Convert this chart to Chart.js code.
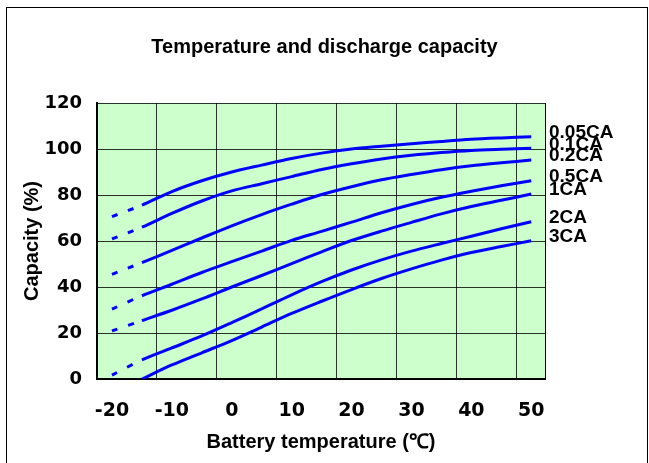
<!DOCTYPE html>
<html>
<head>
<meta charset="utf-8">
<title>Temperature and discharge capacity</title>
<script src="https://cdn.jsdelivr.net/npm/chart.js@4.4.1/dist/chart.umd.min.js"></script>
<style>
  html, body { margin: 0; padding: 0; background: #fff; }
  #wrap { position: relative; width: 649px; height: 463px; }
  #frame { position: absolute; left: 6px; top: 7px; width: 640px; height: 470px; border: 1px solid #000; pointer-events: none; }
</style>
</head>
<body>
<div id="wrap">
  <canvas id="capChart" width="649" height="463"></canvas>
  <div id="frame"></div>
</div>
<script>
// Temperature (deg C) of each reading
const temps = [-20, -15, -10, -5, 0, 5, 10, 15, 20, 25, 30, 35, 40, 45, 50];

// Capacity (%) per discharge rate
const cap005 = [70.6, 75.6, 81.5, 86.2, 90, 93, 95.9, 98.2, 100, 101.2, 102.3, 103.3, 104.2, 104.8, 105.3];
const cap01 = [60.9, 66, 72, 77.4, 81.8, 84.9, 88, 91.1, 93.6, 95.7, 97.3, 98.5, 99.4, 99.9, 100.3];
const cap02 = [45.5, 50.6, 55.9, 61.3, 66.6, 71.5, 76, 80.2, 83.6, 86.6, 88.9, 91, 92.7, 94, 95.2];
const cap05 = [30.4, 36.2, 41.2, 46.3, 51, 55.6, 60.3, 64.2, 68.2, 72.3, 75.9, 79, 81.6, 84, 86.2];
const cap1 = [20.9, 25.4, 29.9, 34.8, 40, 45, 50.2, 55.3, 60.2, 64.3, 68.1, 71.8, 75, 77.7, 80.4];
const cap2 = [1.7, 8.3, 13.5, 18.7, 24.5, 30.5, 36.6, 42.3, 47.4, 51.8, 55.6, 58.9, 62.1, 65.3, 68.4];
const cap3 = [null, 0, 6.1, 11.4, 16.7, 22.6, 28.5, 33.8, 38.9, 43.7, 47.9, 51.7, 55, 57.6, 60.1];

const seriesNames = ["0.05CA", "0.1CA", "0.2CA", "0.5CA", "1CA", "2CA", "3CA"];
const seriesValues = [cap005, cap01, cap02, cap05, cap1, cap2, cap3];

// vertical grid lines sit between the temperature labels
const gridTemps = [-22.5, -12.5, -2.5, 7.5, 17.5, 27.5, 37.5, 47.5];
const xTickLabels = ["-20", "-10", "0", "10", "20", "30", "40", "50"];

const gridColor = "rgba(0,0,0,0.8)";

// green plot area
const plotBg = {
  id: "plotBg",
  beforeDraw(chart) {
    const { ctx, chartArea: a } = chart;
    ctx.save();
    ctx.fillStyle = "#ccffcc";
    ctx.fillRect(a.left, a.top, a.right - a.left, a.bottom - a.top);
    ctx.restore();
  },
};

// rate names next to the line ends
const endLabels = {
  id: "endLabels",
  afterDatasetsDraw(chart) {
    const { ctx, chartArea } = chart;
    ctx.save();
    ctx.font = "bold 19px 'Liberation Sans', Arial, sans-serif";
    ctx.fillStyle = "#000";
    ctx.textAlign = "left";
    ctx.textBaseline = "middle";
    chart.data.datasets.forEach((ds, i) => {
      const pts = chart.getDatasetMeta(i).data;
      const last = pts[pts.length - 1];
      ctx.fillText(ds.label, chartArea.right + 4, last.y - 4);
    });
    ctx.restore();
  },
};

const datasets = seriesNames.map((name, i) => ({
  label: name,
  data: temps.map((t, j) => ({ x: t, y: seriesValues[i][j] })),
  borderColor: "#0000ff",
  borderWidth: 3,
  pointRadius: 0,
  fill: false,
  tension: 0.3,
  segment: {
    // first 5 degrees drawn dashed
    borderDash: (ctx) => (ctx.p0DataIndex === 0 ? [6, 11] : undefined),
  },
}));

const tickFont = { family: "'DejaVu Sans', sans-serif", size: 18, weight: "bold" };

const ctx = document.getElementById("capChart").getContext("2d");
new Chart(ctx, {
  type: "line",
  data: { datasets: datasets },
  options: {
    responsive: false,
    animation: false,
    layout: { padding: 0 },
    plugins: {
      legend: { display: false },
      tooltip: { enabled: false },
      title: {
        display: true,
        text: "Temperature and discharge capacity",
        color: "#000",
        font: { family: "'Liberation Sans', Arial, sans-serif", size: 20, weight: "bold" },
        padding: { top: 35, bottom: 44 },
      },
    },
    scales: {
      x: {
        type: "linear",
        position: "bottom",
        min: -22.5,
        max: 52.3,
        afterBuildTicks: (s) => {
          s.ticks = gridTemps.map((v) => ({ value: v }));
        },
        afterFit: (s) => {
          s.height = 84;
        },
        ticks: {
          callback: (v, i) => xTickLabels[i],
          labelOffset: 15,
          autoSkip: false,
          maxRotation: 0,
          padding: 21,
          color: "#000",
          font: { family: "'DejaVu Sans', sans-serif", size: 19, weight: "bold" },
        },
        grid: { color: gridColor, lineWidth: 1, drawTicks: false },
        border: { color: "#000", width: 2 },
        title: {
          display: true,
          text: "Battery temperature (℃)",
          color: "#000",
          font: { family: "'Liberation Sans', Arial, sans-serif", size: 20, weight: "bold" },
          padding: { top: 0, bottom: 9 },
        },
      },
      y: {
        min: 0,
        max: 120,
        afterFit: (s) => {
          s.width = 97;
        },
        ticks: { stepSize: 20, padding: 15, color: "#000", font: tickFont },
        grid: { color: gridColor, lineWidth: 1, drawTicks: false },
        border: { color: "#000", width: 2 },
        title: {
          display: true,
          text: "Capacity (%)",
          color: "#000",
          font: { family: "'Liberation Sans', Arial, sans-serif", size: 20, weight: "bold" },
          padding: { top: 20, bottom: 0 },
        },
      },
      y2: {
        position: "right",
        min: 0,
        max: 120,
        afterFit: (s) => {
          s.width = 104;
        },
        ticks: { display: false },
        grid: { display: false },
        border: { color: "#000", width: 1 },
      },
    },
  },
  plugins: [plotBg, endLabels],
});
</script>
</body>
</html>
